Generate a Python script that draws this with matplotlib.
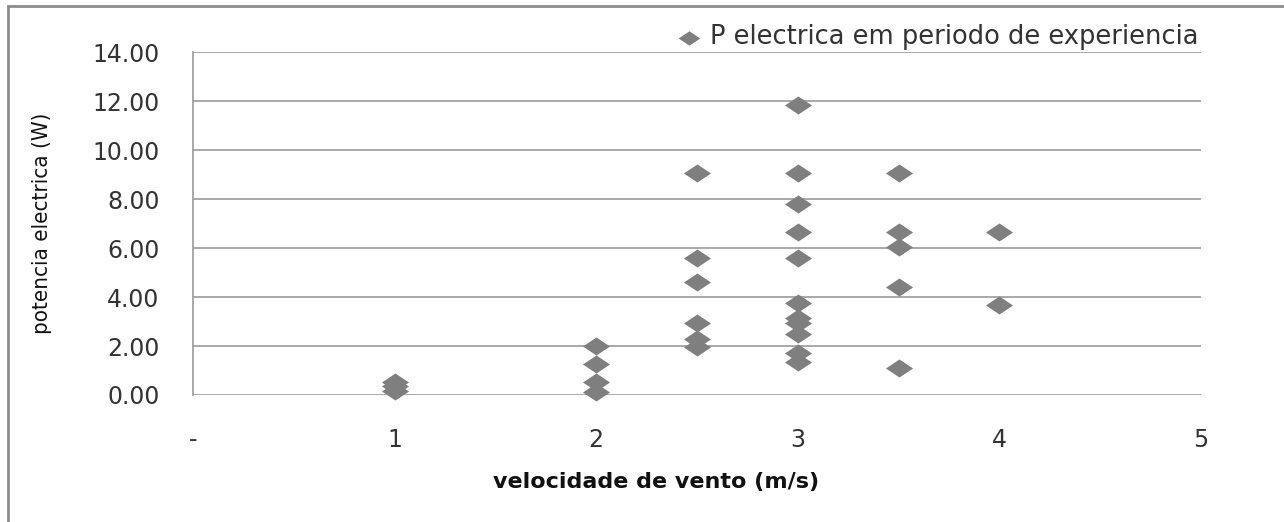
import numpy as np
import matplotlib
matplotlib.use('Agg')
import matplotlib.pyplot as plt
from matplotlib.patches import Rectangle

# wind speed (m/s) and electric power (W)
vel_1 = [1, 1, 1]
pot_1 = [0.55, 0.35, 0.15]
vel_2 = [2, 2, 2, 2]
pot_2 = [2.01, 1.28, 0.53, 0.11]
vel_25 = [2.5, 2.5, 2.5, 2.5, 2.5, 2.5]
pot_25 = [9.05, 5.58, 4.60, 2.95, 2.27, 1.97]
vel_3 = [3, 3, 3, 3, 3, 3, 3, 3, 3, 3, 3]
pot_3 = [11.84, 9.05, 7.80, 6.64, 5.58, 3.74, 3.15, 2.95, 2.48, 1.70, 1.34]
vel_35 = [3.5, 3.5, 3.5, 3.5, 3.5]
pot_35 = [9.05, 6.67, 6.03, 4.42, 1.09]
vel_4 = [4, 4]
pot_4 = [6.67, 3.67]

x = vel_1 + vel_2 + vel_25 + vel_3 + vel_35 + vel_4
y = pot_1 + pot_2 + pot_25 + pot_3 + pot_35 + pot_4

x_ticks = [0, 1, 2, 3, 4, 5]
x_tick_labels = ['-', '1', '2', '3', '4', '5']
y_ticks = [0, 2, 4, 6, 8, 10, 12, 14]

grey = '#7f7f7f'
diamond = [(0, 1), (1.5, 0), (0, -1), (-1.5, 0), (0, 1)]

fig = plt.figure(figsize=(12.84, 5.22), dpi=100)
fig.patches.append(Rectangle((8 / 1284, -0.1), 1.2, 1 - 6 / 522 + 0.1,
                             transform=fig.transFigure, fill=False,
                             edgecolor='#8c8c8c', linewidth=2))
ax = fig.add_axes([0.1503, 0.2433, 0.7851, 0.657])

ax.scatter(x, y, marker=diamond, s=380, color=grey, linewidths=0,
           label='P electrica em periodo de experiencia', zorder=3, clip_on=False)

ax.set_xlim(0, 5)
ax.set_ylim(0, 14)
ax.set_xticks(x_ticks)
ax.set_xticklabels(x_tick_labels)
ax.set_yticks(y_ticks)
ax.set_yticklabels(['%.2f' % v for v in y_ticks])
ax.tick_params(length=0, labelsize=17, colors='#333333')
ax.tick_params(axis='x', pad=24)
ax.tick_params(axis='y', pad=24)

ax.grid(axis='y', color='#999999', linewidth=1.2)
ax.set_axisbelow(True)
for side in ['top', 'right', 'bottom']:
    ax.spines[side].set_visible(False)
ax.spines['left'].set_color('#999999')
ax.spines['left'].set_linewidth(1.2)

ax.set_xlabel('velocidade de vento (m/s)', fontsize=16, fontweight='bold',
              color='#111111')
ax.xaxis.set_label_coords(0.459, -0.225)
ax.set_ylabel('potencia electrica (W)', fontsize=16, fontstretch='condensed',
              color='#111111')
ax.yaxis.set_label_coords(-0.14, 0.5)

ax.legend(loc='lower right', bbox_to_anchor=(0.997, 1.005), frameon=False,
          fontsize=18.5, handletextpad=0.0, handlelength=1.6, borderaxespad=0,
          borderpad=0, markerscale=0.8, labelcolor='#333333')

fig.savefig('out.png', dpi=100)
